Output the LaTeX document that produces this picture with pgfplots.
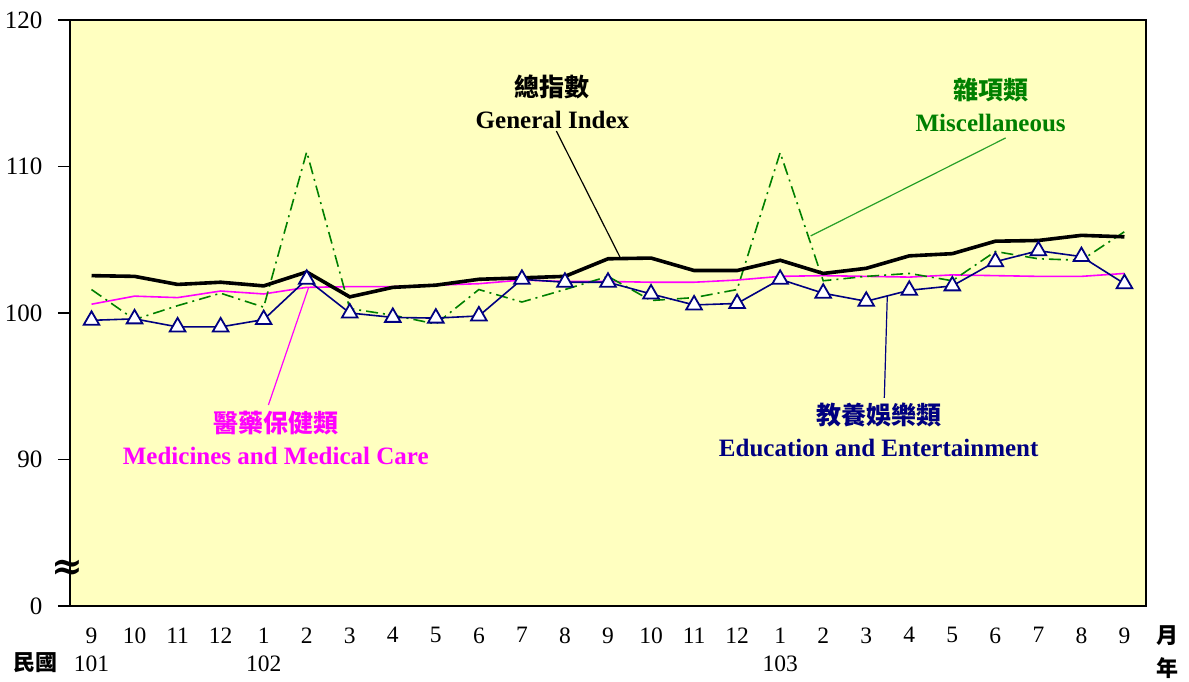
\documentclass[border=0pt]{standalone}
\usepackage{pgfplots}
\pgfplotsset{compat=1.18}
\usepackage{fontspec}
\setmainfont{Liberation Serif}
\newfontfamily\cjk{Noto Sans CJK TC}
\newfontfamily\symfont{DejaVu Serif}
\definecolor{bgyellow}{RGB}{255,255,192}
\definecolor{mgreen}{RGB}{0,128,0}
\definecolor{lgreen}{RGB}{40,160,40}
\definecolor{mnavy}{RGB}{0,0,128}
\definecolor{mmag}{RGB}{255,0,255}
\begin{document}
\begin{tikzpicture}
\begin{axis}[
  scale only axis,
  width=1076bp, height=586bp,
  xmin=-0.5, xmax=24.5, ymin=80, ymax=120,
  axis background/.style={fill=bgyellow},
  axis line style={line width=1.8bp},
  xtick={0,...,24},
  xticklabels={9,10,11,12,1,2,3,4,5,6,7,8,9,10,11,12,1,2,3,4,5,6,7,8,9},
  xtick style={draw=none},
  minor xtick={0.5,1.5,...,23.5},
  minor tick length=8bp,
  minor x tick style={line width=1.3bp,black},
  xtick align=inside,
  ytick={80,90,100,110,120},
  yticklabels={0,90,100,110,120},
  ytick align=outside,
  major tick length=12bp,
  ytick style={line width=1.3bp,black},
  xticklabel style={yshift=-18bp, font=\fontsize{23.5bp}{26bp}\selectfont},
  yticklabel style={xshift=-12bp, font=\fontsize{25bp}{28bp}\selectfont},
  xtick pos=bottom, ytick pos=left,
  clip=false,
]
% Medicines and Medical Care
\addplot[mmag, line width=1.6bp] coordinates {
(0,100.6)(1,101.15)(2,101.05)(3,101.5)(4,101.3)(5,101.75)(6,101.8)(7,101.8)(8,101.9)(9,102.0)(10,102.25)(11,102.15)(12,102.15)(13,102.1)(14,102.1)(15,102.25)(16,102.5)(17,102.55)(18,102.5)(19,102.45)(20,102.6)(21,102.55)(22,102.5)(23,102.5)(24,102.7)};
% Miscellaneous
\addplot[mgreen, line width=1.6bp, dash pattern=on 12bp off 5bp on 2bp off 5bp] coordinates {
(0,101.6)(1,99.55)(2,100.5)(3,101.35)(4,100.4)(5,111.0)(6,100.3)(7,99.85)(8,99.25)(9,101.6)(10,100.75)(11,101.6)(12,102.5)(13,100.85)(14,101.05)(15,101.6)(16,110.95)(17,102.2)(18,102.5)(19,102.7)(20,102.2)(21,104.2)(22,103.7)(23,103.6)(24,105.55)};
% Education and Entertainment
\addplot[mnavy, line width=1.6bp, mark=triangle*, mark size=9bp,
  mark options={fill=white, draw=mnavy, line width=1.8bp, solid}] coordinates {
(0,99.5)(1,99.6)(2,99.05)(3,99.05)(4,99.55)(5,102.3)(6,100.0)(7,99.7)(8,99.65)(9,99.8)(10,102.3)(11,102.1)(12,102.1)(13,101.3)(14,100.55)(15,100.65)(16,102.3)(17,101.35)(18,100.8)(19,101.55)(20,101.85)(21,103.5)(22,104.25)(23,103.85)(24,102.0)};
% General Index
\addplot[black, line width=3.6bp] coordinates {
(0,102.55)(1,102.5)(2,101.95)(3,102.1)(4,101.85)(5,102.8)(6,101.1)(7,101.75)(8,101.9)(9,102.3)(10,102.4)(11,102.5)(12,103.7)(13,103.75)(14,102.9)(15,102.9)(16,103.6)(17,102.7)(18,103.05)(19,103.9)(20,104.05)(21,104.9)(22,104.95)(23,105.3)(24,105.2)};

% leader lines
\draw[black, line width=1.2bp] (axis cs:10.80,112.42) -- (axis cs:12.29,103.75);
\draw[lgreen, line width=1.2bp] (axis cs:21.24,111.95) -- (axis cs:16.71,105.26);
\draw[mmag, line width=1.2bp] (axis cs:4.11,93.72) -- (axis cs:5.04,101.71);
\draw[mnavy, line width=1.2bp] (axis cs:18.42,94.2) -- (axis cs:18.49,101.19);

% annotations
\node[align=center, text=black, font=\bfseries\fontsize{25bp}{32bp}\selectfont] at (axis cs:10.71,114.43)
  {{\cjk\bfseries 總指數}\\General Index};
\node[align=center, text=mgreen, font=\bfseries\fontsize{25bp}{32bp}\selectfont] at (axis cs:20.89,114.23)
  {{\cjk\bfseries 雜項類}\\Miscellaneous};
\node[align=center, text=mmag, font=\bfseries\fontsize{25bp}{32bp}\selectfont] at (axis cs:4.28,91.47)
  {{\cjk\bfseries 醫藥保健類}\\Medicines and Medical Care};
\node[align=center, text=mnavy, font=\bfseries\fontsize{25bp}{32bp}\selectfont] at (axis cs:18.29,92.05)
  {{\cjk\bfseries 教養娛樂類}\\Education and Entertainment};

% axis break
\node[font=\symfont\bfseries\fontsize{38bp}{38bp}\selectfont] at (axis cs:-0.55,82.5) {≈};

% second row labels
\node[font=\fontsize{23.5bp}{26bp}\selectfont] at ([yshift=-58bp]axis cs:0,80) {101};
\node[font=\fontsize{23.5bp}{26bp}\selectfont] at ([yshift=-58bp]axis cs:4,80) {102};
\node[font=\fontsize{23.5bp}{26bp}\selectfont] at ([yshift=-58bp]axis cs:16,80) {103};
\node[font=\cjk\bfseries\fontsize{22bp}{26bp}\selectfont] at ([yshift=-57bp]axis cs:-1.30,80) {民國};
\node[font=\cjk\bfseries\fontsize{22bp}{26bp}\selectfont] at ([yshift=-30bp]axis cs:25.0,80) {月};
\node[font=\cjk\bfseries\fontsize{22bp}{26bp}\selectfont] at ([yshift=-62bp]axis cs:25.0,80) {年};
\end{axis}
\pgfresetboundingbox
\path (current axis.south west) ++(-70bp,-76bp) rectangle ++(1189bp,682bp);
\end{tikzpicture}
\end{document}
